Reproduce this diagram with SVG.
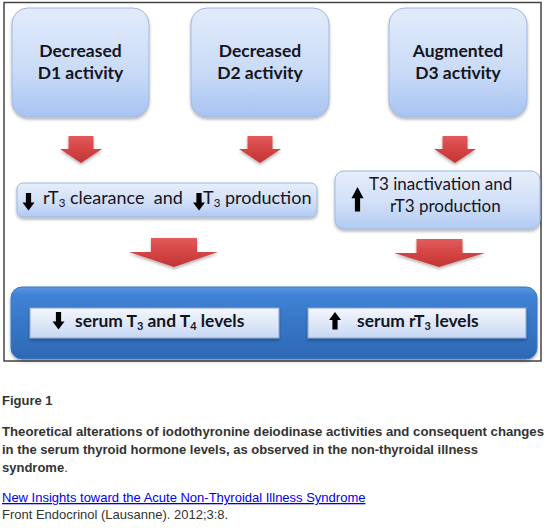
<svg xmlns="http://www.w3.org/2000/svg" width="549" height="528" viewBox="0 0 549 528">
<defs>
<linearGradient id="gTop" x1="0" y1="0" x2="0" y2="1">
<stop offset="0" stop-color="#e2ebfa"/><stop offset="0.55" stop-color="#cbdcf7"/><stop offset="1" stop-color="#a8c4f2"/>
</linearGradient>
<linearGradient id="gMid" x1="0" y1="0" x2="0" y2="1">
<stop offset="0" stop-color="#e6eefb"/><stop offset="0.6" stop-color="#cfdef7"/><stop offset="1" stop-color="#b0caf2"/>
</linearGradient>
<linearGradient id="gBlue" x1="0" y1="0" x2="0" y2="1">
<stop offset="0" stop-color="#5b97de"/><stop offset="0.12" stop-color="#3f82d4"/><stop offset="1" stop-color="#2d68b4"/>
</linearGradient>
<linearGradient id="gInner" x1="0" y1="0" x2="0" y2="1">
<stop offset="0" stop-color="#f2f6fd"/><stop offset="0.5" stop-color="#dfe8f8"/><stop offset="1" stop-color="#c6d7f3"/>
</linearGradient>
<linearGradient id="gRed" x1="0" y1="0" x2="0" y2="1">
<stop offset="0" stop-color="#e25a5a"/><stop offset="0.5" stop-color="#d44545"/><stop offset="1" stop-color="#c23434"/>
</linearGradient>
<filter id="sh" x="-10%" y="-10%" width="120%" height="130%">
<feDropShadow dx="0" dy="2" stdDeviation="1.5" flood-color="#000" flood-opacity="0.3"/>
</filter>
<path id="dn" d="M-2.6,0 h5.2 v9.5 h3.4 l-6,8 l-6,-8 h3.4 z"/>
<path id="up" d="M-2.6,17.5 h5.2 v-9.5 h3.4 l-6,-8 l-6,8 h3.4 z"/>
</defs>
<style>
.box{stroke:#9fb7df;stroke-width:1;filter:url(#sh)}
.t{font-family:Lato,"Open Sans","Liberation Sans",sans-serif;fill:#14141f}
.hd{font-size:17.5px;font-weight:bold;text-anchor:middle}
.md{font-size:18px}
.mr{font-size:17px}
.bt{font-size:17.4px;font-weight:bold}
.arr{fill:url(#gRed);filter:url(#sh)}
.ic{fill:#000}
.cap{font-family:"Liberation Sans",Arial,sans-serif;font-size:13px;fill:#333}
</style>
<rect width="549" height="528" fill="#fff"/>
<rect x="4" y="2.5" width="537" height="358.5" fill="none" stroke="#444" stroke-width="1.5"/>

<g id="connectors">
<path class="arr" d="M68.5,136 h25 v13 h8.5 l-21,14 l-21,-14 h8.5 z"/>
<path class="arr" d="M247.5,136 h25 v13 h8.5 l-21,14 l-21,-14 h8.5 z"/>
<path class="arr" d="M442.5,136 h25 v13 h8.5 l-21,14 l-21,-14 h8.5 z"/>
<path class="arr" d="M151,238 h46 v14 h21 l-44,15 l-45,-15 h22 z"/>
<path class="arr" d="M416.5,239 h46 v14 h22.5 l-46,14 l-45,-14 h22.5 z"/>
</g>

<g id="d1">
<rect class="box" x="12" y="8" width="137" height="109" rx="16" fill="url(#gTop)"/>
<text class="t hd" x="80.5" y="57">Decreased</text>
<text class="t hd" x="80.5" y="79">D1 activity</text>
</g>
<g id="d2">
<rect class="box" x="191" y="8" width="138" height="109" rx="16" fill="url(#gTop)"/>
<text class="t hd" x="260" y="57">Decreased</text>
<text class="t hd" x="260" y="79">D2 activity</text>
</g>
<g id="d3">
<rect class="box" x="389" y="8" width="138" height="109" rx="16" fill="url(#gTop)"/>
<text class="t hd" x="458" y="57">Augmented</text>
<text class="t hd" x="458" y="79">D3 activity</text>
</g>

<g id="mid-left">
<rect class="box" x="17" y="183" width="300" height="34" rx="6" fill="url(#gMid)"/>
<use href="#dn" class="ic" x="28.5" y="193"/>
<text class="t md" x="43" y="204" xml:space="preserve">rT<tspan font-size="11.5" dy="3">3</tspan><tspan dy="-3"> clearance  and</tspan></text>
<use href="#dn" class="ic" x="199" y="193"/>
<text class="t md" x="203" y="204">T<tspan font-size="11.5" dy="3">3</tspan><tspan dy="-3"> production</tspan></text>
</g>

<g id="mid-right">
<rect class="box" x="335" y="171" width="205" height="58" rx="9" fill="url(#gMid)"/>
<use href="#up" class="ic" transform="translate(357.5,187) scale(1,1.4)"/>
<text class="t mr" x="369" y="190">T3 inactivation and</text>
<text class="t mr" x="390" y="212">rT3 production</text>
</g>

<g id="serum">
<rect x="11" y="287" width="526" height="72" rx="11" fill="url(#gBlue)" stroke="#3a77c4" stroke-width="1" filter="url(#sh)"/>
<g id="serum-t3t4">
<rect x="30" y="308" width="249" height="30" fill="url(#gInner)" stroke="#8aa6d4" stroke-width="1" filter="url(#sh)"/>
<use href="#dn" class="ic" x="58.5" y="312"/>
<text class="t bt" x="75" y="327">serum T<tspan font-size="11" dy="3">3</tspan><tspan dy="-3"> and T</tspan><tspan font-size="11" dy="3">4</tspan><tspan dy="-3"> levels</tspan></text>
</g>
<g id="serum-rt3">
<rect x="308" y="308" width="218" height="30" fill="url(#gInner)" stroke="#8aa6d4" stroke-width="1" filter="url(#sh)"/>
<use href="#up" class="ic" x="335" y="312"/>
<text class="t bt" x="357" y="327">serum rT<tspan font-size="11" dy="3">3</tspan><tspan dy="-3"> levels</tspan></text>
</g>
</g>

<g id="caption">
<text class="cap" x="2" y="405" font-weight="bold">Figure 1</text>
<text class="cap" x="2" y="436" font-weight="bold" textLength="542" lengthAdjust="spacingAndGlyphs">Theoretical alterations of iodothyronine deiodinase activities and consequent changes</text>
<text class="cap" x="2" y="454" font-weight="bold">in the serum thyroid hormone levels, as observed in the non-thyroidal illness</text>
<text class="cap" x="2" y="472"><tspan font-weight="bold">syndrome</tspan>.</text>
<text class="cap" x="2" y="502" style="fill:#0000ee" text-decoration="underline">New Insights toward the Acute Non-Thyroidal Illness Syndrome</text>
<text class="cap" x="2" y="519">Front Endocrinol (Lausanne). 2012;3:8.</text>
</g>
</svg>
